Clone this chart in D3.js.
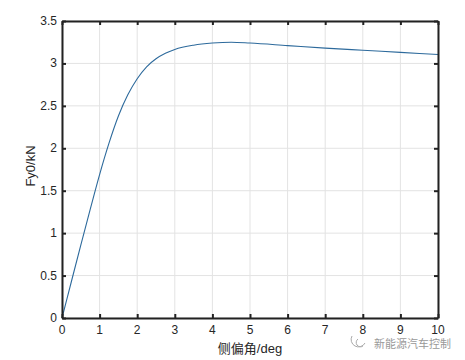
<!DOCTYPE html>
<html>
<head>
  <meta charset="utf-8">
  <title>Fy0 vs slip angle</title>
  <style>
  body { margin: 0; background: #fff; }
  .grid line { stroke: #e3e3e3; stroke-width: 1px; }
  .tick-label { font-family: "Liberation Sans", Arial, sans-serif; font-size: 12px; fill: #262626; }
  .ax-label { font-family: "Liberation Sans", "Noto Sans CJK SC", sans-serif; font-size: 13px; fill: #262626; }
  </style>
</head>
<body>
  <svg width="465" height="360"></svg>
  <script src="https://d3js.org/d3.v7.min.js"></script>
  <script>
  // data
  var slipDeg = [0, 0.25, 0.5, 0.75, 1, 1.25, 1.5, 1.75, 2, 2.25, 2.5, 2.75, 3, 3.5, 4, 4.5, 5, 6, 7, 8, 9, 10];
  var fy0 = [0, 0.43, 0.86, 1.28, 1.69, 2.06, 2.38, 2.63, 2.82, 2.96, 3.055, 3.12, 3.165, 3.215, 3.24, 3.25, 3.24, 3.21, 3.18, 3.155, 3.13, 3.105];
  var xTicks = [0, 1, 2, 3, 4, 5, 6, 7, 8, 9, 10];
  var yTicks = [0, 0.5, 1, 1.5, 2, 2.5, 3, 3.5];
  var xTitle = "侧偏角/deg";
  var yTitle = "Fy0/kN";
  var watermark = "新能源汽车控制";

  var svg = d3.select("svg");
  // plot box (window.top is reserved, so use other names)
  var pLeft = 62, pRight = 438, pTop = 21, pBottom = 318;

  var x = d3.scaleLinear().domain([0, 10]).range([pLeft, pRight]);
  var y = d3.scaleLinear().domain([0, 3.5]).range([pBottom, pTop]);

  // grid
  var grid = svg.append("g").attr("class", "grid");
  grid.selectAll(".vx").data(xTicks).enter().append("line")
    .attr("x1", function(d) { return x(d); }).attr("x2", function(d) { return x(d); })
    .attr("y1", pTop).attr("y2", pBottom);
  grid.selectAll(".hy").data(yTicks).enter().append("line")
    .attr("y1", function(d) { return y(d); }).attr("y2", function(d) { return y(d); })
    .attr("x1", pLeft).attr("x2", pRight);

  // curve
  var line = d3.line()
    .x(function(d, i) { return x(slipDeg[i]); })
    .y(function(d) { return y(d); })
    .curve(d3.curveMonotoneX);

  svg.append("path")
    .datum(fy0)
    .attr("fill", "none")
    .attr("stroke", "#2d6a9c")
    .attr("stroke-width", 1.1)
    .attr("d", line);

  // axes (ticks inward, box on)
  var axCol = "#222";
  var bottomAxis = svg.append("g").attr("transform", "translate(0," + pBottom + ")")
    .call(d3.axisBottom(x).tickValues(xTicks).tickSizeInner(-4).tickSizeOuter(0).tickFormat(""));
  var topAxis = svg.append("g").attr("transform", "translate(0," + pTop + ")")
    .call(d3.axisTop(x).tickValues(xTicks).tickSizeInner(-4).tickSizeOuter(0).tickFormat(""));
  var leftAxis = svg.append("g").attr("transform", "translate(" + pLeft + ",0)")
    .call(d3.axisLeft(y).tickValues(yTicks).tickSizeInner(-4).tickSizeOuter(0).tickFormat(""));
  var rightAxis = svg.append("g").attr("transform", "translate(" + pRight + ",0)")
    .call(d3.axisRight(y).tickValues(yTicks).tickSizeInner(-4).tickSizeOuter(0).tickFormat(""));
  [bottomAxis, topAxis, leftAxis, rightAxis].forEach(function(a) {
    a.select(".domain").attr("stroke", axCol).attr("stroke-width", 2);
    a.selectAll(".tick line").attr("stroke", axCol).attr("stroke-width", 2);
  });

  // tick labels
  svg.selectAll(".xl").data(xTicks).enter().append("text")
    .attr("class", "tick-label")
    .attr("x", function(d) { return x(d); })
    .attr("y", 334)
    .attr("text-anchor", "middle")
    .text(function(d) { return d; });
  svg.selectAll(".yl").data(yTicks).enter().append("text")
    .attr("class", "tick-label")
    .attr("x", 57)
    .attr("y", function(d) { return y(d) + 4; })
    .attr("text-anchor", "end")
    .text(function(d) { return d; });

  // titles
  svg.append("text").attr("class", "ax-label")
    .attr("x", 250).attr("y", 353)
    .attr("text-anchor", "middle")
    .text(xTitle);
  svg.append("text").attr("class", "ax-label")
    .attr("transform", "translate(35,166) rotate(-90)")
    .attr("text-anchor", "middle")
    .text(yTitle);

  // watermark
  var wm = svg.append("g").attr("fill", "none").attr("stroke", "#aaa").attr("stroke-width", 1);
  wm.append("path").attr("d", "M352,336 A7,7 0 1,0 365,343");
  wm.append("path").attr("d", "M358,339 A4,4 0 1,0 363,346");
  svg.append("text")
    .attr("x", 374).attr("y", 348)
    .attr("font-family", "Noto Sans CJK SC, sans-serif")
    .attr("font-size", 11)
    .attr("fill", "#999")
    .text(watermark);
  </script>
</body>
</html>
